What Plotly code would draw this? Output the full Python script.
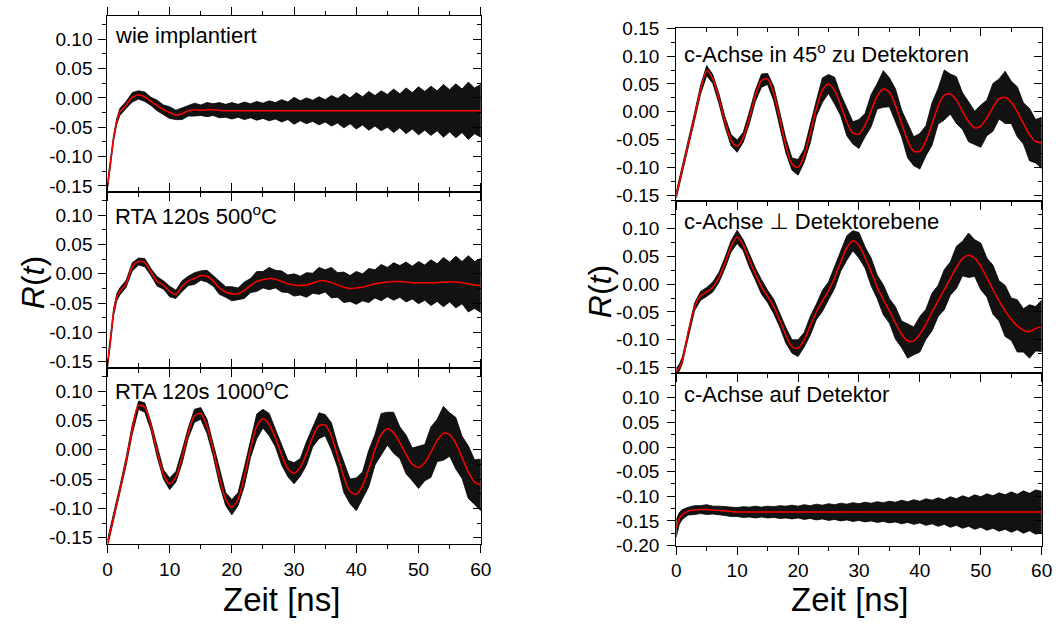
import plotly.graph_objects as go

# ---------------- data ----------------
T = [0, 0.5, 1, 1.5, 2] + list(range(3, 61))   # 63 time points, ns

# fitted curves (red)
FIT_A = [-0.150, -0.110, -0.068, -0.040, -0.024, -0.012, 0.001, 0.005, 0.002, -0.006,
         -0.013, -0.020, -0.025, -0.029, -0.027, -0.022, -0.020, -0.021, -0.020, -0.020,
         -0.021, -0.022, -0.022, -0.022, -0.022, -0.022, -0.022, -0.022, -0.022, -0.022,
         -0.022, -0.022, -0.022, -0.022, -0.022, -0.022, -0.022, -0.022, -0.022, -0.022,
         -0.022, -0.022, -0.022, -0.022, -0.022, -0.022, -0.022, -0.022, -0.022, -0.022,
         -0.022, -0.022, -0.022, -0.022, -0.022, -0.022, -0.022, -0.022, -0.022, -0.022,
         -0.022, -0.022, -0.022]
FIT_B = [-0.155, -0.112, -0.065, -0.040, -0.030, -0.017, 0.012, 0.021, 0.019, 0.003,
         -0.013, -0.019, -0.030, -0.035, -0.021, -0.012, -0.008, -0.003, -0.004, -0.012,
         -0.024, -0.031, -0.034, -0.034, -0.028, -0.020, -0.013, -0.010, -0.008, -0.009,
         -0.013, -0.017, -0.019, -0.020, -0.019, -0.016, -0.012, -0.012, -0.015, -0.019,
         -0.023, -0.025, -0.024, -0.023, -0.020, -0.017, -0.015, -0.014, -0.013, -0.013,
         -0.014, -0.015, -0.015, -0.015, -0.015, -0.015, -0.014, -0.014, -0.014, -0.015,
         -0.017, -0.019, -0.020]
FIT_C = [-0.160, -0.138, -0.115, -0.092, -0.068, -0.020, 0.035, 0.076, 0.072, 0.040,
         -0.004, -0.042, -0.058, -0.046, -0.012, 0.029, 0.058, 0.062, 0.040, -0.001,
         -0.047, -0.084, -0.098, -0.084, -0.046, 0.001, 0.040, 0.053, 0.043, 0.020,
         -0.009, -0.032, -0.040, -0.030, -0.006, 0.022, 0.041, 0.042, 0.023, -0.011,
         -0.047, -0.071, -0.076, -0.061, -0.032, 0.000, 0.026, 0.036, 0.029, 0.012,
         -0.008, -0.025, -0.030, -0.022, -0.004, 0.016, 0.028, 0.026, 0.011, -0.013,
         -0.038, -0.055, -0.060]
FIT_D = [-0.150, -0.127, -0.103, -0.080, -0.056, -0.009, 0.040, 0.074, 0.059, 0.024,
         -0.018, -0.051, -0.062, -0.046, -0.011, 0.029, 0.056, 0.059, 0.033, -0.013,
         -0.061, -0.094, -0.100, -0.079, -0.039, 0.006, 0.039, 0.050, 0.038, 0.012,
         -0.018, -0.038, -0.040, -0.024, 0.002, 0.028, 0.041, 0.035, 0.011, -0.021,
         -0.052, -0.071, -0.071, -0.052, -0.022, 0.010, 0.030, 0.032, 0.021, 0.001,
         -0.018, -0.029, -0.026, -0.011, 0.008, 0.023, 0.026, 0.017, 0.000, -0.021,
         -0.041, -0.053, -0.056]
FIT_E = [-0.157, -0.150, -0.137, -0.112, -0.085, -0.041, -0.021, -0.014, -0.005, 0.012,
         0.038, 0.068, 0.085, 0.070, 0.043, 0.018, -0.005, -0.022, -0.040, -0.065,
         -0.092, -0.112, -0.115, -0.100, -0.075, -0.050, -0.030, -0.012, 0.012, 0.040,
         0.065, 0.078, 0.070, 0.048, 0.022, -0.005, -0.028, -0.048, -0.070, -0.090,
         -0.102, -0.102, -0.090, -0.072, -0.050, -0.030, -0.010, 0.010, 0.030, 0.046,
         0.052, 0.047, 0.032, 0.012, -0.010, -0.030, -0.048, -0.063, -0.075, -0.083,
         -0.085, -0.080, -0.075]
FIT_F = [-0.165, -0.145, -0.137, -0.133, -0.130, -0.128, -0.127, -0.127, -0.128, -0.129,
         -0.130, -0.131, -0.132, -0.132, -0.132, -0.132, -0.132, -0.132, -0.132, -0.132,
         -0.132, -0.132, -0.132, -0.132, -0.132, -0.132, -0.132, -0.132, -0.132, -0.132,
         -0.132, -0.132, -0.132, -0.132, -0.132, -0.132, -0.132, -0.132, -0.132, -0.132,
         -0.132, -0.132, -0.132, -0.132, -0.132, -0.132, -0.132, -0.132, -0.132, -0.132,
         -0.132, -0.132, -0.132, -0.132, -0.132, -0.132, -0.132, -0.132, -0.132, -0.132,
         -0.132, -0.132, -0.132]

# half-width of the noisy measured data (black) around the fit
NOISE_A = [0.006, 0.005, 0.005, 0.005, 0.006, 0.006, 0.008, 0.007, 0.008, 0.007,
           0.009, 0.008, 0.010, 0.008, 0.010, 0.009, 0.011, 0.009, 0.012, 0.010,
           0.013, 0.011, 0.014, 0.011, 0.015, 0.012, 0.016, 0.013, 0.017, 0.014,
           0.019, 0.015, 0.023, 0.017, 0.022, 0.018, 0.024, 0.019, 0.026, 0.021,
           0.029, 0.022, 0.031, 0.024, 0.033, 0.026, 0.034, 0.028, 0.037, 0.029,
           0.039, 0.031, 0.041, 0.033, 0.042, 0.034, 0.045, 0.036, 0.046, 0.037,
           0.049, 0.039, 0.045]
NOISE_B = [0.006, 0.006, 0.006, 0.006, 0.006, 0.006, 0.007, 0.006, 0.007, 0.006,
           0.008, 0.007, 0.009, 0.007, 0.009, 0.008, 0.010, 0.008, 0.010, 0.009,
           0.011, 0.009, 0.012, 0.010, 0.014, 0.012, 0.017, 0.014, 0.019, 0.015,
           0.018, 0.015, 0.019, 0.016, 0.021, 0.017, 0.023, 0.019, 0.026, 0.021,
           0.026, 0.022, 0.028, 0.023, 0.029, 0.024, 0.031, 0.025, 0.032, 0.027,
           0.034, 0.028, 0.036, 0.030, 0.039, 0.032, 0.042, 0.034, 0.044, 0.036,
           0.048, 0.040, 0.046]
NOISE_C = [0.006, 0.006, 0.006, 0.006, 0.006, 0.007, 0.008, 0.007, 0.008, 0.007,
           0.009, 0.008, 0.010, 0.009, 0.011, 0.009, 0.011, 0.010, 0.012, 0.010,
           0.012, 0.011, 0.013, 0.011, 0.016, 0.014, 0.021, 0.016, 0.019, 0.015,
           0.017, 0.014, 0.018, 0.015, 0.020, 0.017, 0.022, 0.018, 0.023, 0.019,
           0.026, 0.021, 0.028, 0.023, 0.031, 0.026, 0.036, 0.028, 0.035, 0.027,
           0.033, 0.028, 0.036, 0.031, 0.043, 0.036, 0.046, 0.037, 0.044, 0.036,
           0.045, 0.038, 0.044]
NOISE_D = [0.006, 0.006, 0.006, 0.006, 0.007, 0.007, 0.008, 0.009, 0.008, 0.009,
           0.009, 0.010, 0.011, 0.009, 0.011, 0.010, 0.012, 0.010, 0.013, 0.011,
           0.013, 0.011, 0.014, 0.012, 0.017, 0.014, 0.022, 0.017, 0.024, 0.019,
           0.025, 0.020, 0.026, 0.021, 0.029, 0.023, 0.033, 0.026, 0.030, 0.024,
           0.031, 0.026, 0.032, 0.027, 0.038, 0.032, 0.045, 0.036, 0.042, 0.033,
           0.036, 0.030, 0.038, 0.032, 0.043, 0.036, 0.047, 0.038, 0.045, 0.037,
           0.047, 0.039, 0.046]
NOISE_E = [0.006, 0.006, 0.006, 0.006, 0.007, 0.007, 0.008, 0.008, 0.009, 0.009,
           0.010, 0.010, 0.012, 0.010, 0.012, 0.011, 0.013, 0.011, 0.013, 0.012,
           0.014, 0.012, 0.015, 0.013, 0.017, 0.014, 0.019, 0.016, 0.020, 0.017,
           0.022, 0.018, 0.023, 0.019, 0.025, 0.021, 0.027, 0.022, 0.029, 0.024,
           0.031, 0.025, 0.032, 0.027, 0.034, 0.028, 0.036, 0.030, 0.038, 0.031,
           0.040, 0.033, 0.042, 0.035, 0.044, 0.036, 0.046, 0.038, 0.047, 0.039,
           0.048, 0.040, 0.046]
NOISE_F = [0.018, 0.012, 0.010, 0.009, 0.008, 0.009, 0.008, 0.010, 0.008, 0.009,
           0.009, 0.010, 0.009, 0.011, 0.010, 0.012, 0.010, 0.012, 0.011, 0.013,
           0.012, 0.014, 0.012, 0.015, 0.013, 0.016, 0.014, 0.017, 0.015, 0.018,
           0.016, 0.019, 0.017, 0.020, 0.018, 0.021, 0.019, 0.022, 0.020, 0.024,
           0.021, 0.025, 0.022, 0.027, 0.024, 0.029, 0.025, 0.031, 0.027, 0.033,
           0.029, 0.035, 0.031, 0.037, 0.033, 0.039, 0.035, 0.041, 0.036, 0.043,
           0.038, 0.045, 0.042]

LABELS = ["wie implantiert", "RTA 120s 500<sup>o</sup>C", "RTA 120s 1000<sup>o</sup>C",
          "c-Achse in 45<sup>o</sup> zu Detektoren", "c-Achse \u22a5 Detektorebene",
          "c-Achse auf Detektor"]
FITS = [FIT_A, FIT_B, FIT_C, FIT_D, FIT_E, FIT_F]
NOISES = [NOISE_A, NOISE_B, NOISE_C, NOISE_D, NOISE_E, NOISE_F]
for arr in FITS + NOISES:
    assert len(arr) == len(T)

X_TICKS = [0, 10, 20, 30, 40, 50, 60]
Y_TICKS = [
    [0.10, 0.05, 0.00, -0.05, -0.10, -0.15],
    [0.10, 0.05, 0.00, -0.05, -0.10, -0.15],
    [0.10, 0.05, 0.00, -0.05, -0.10, -0.15],
    [0.15, 0.10, 0.05, 0.00, -0.05, -0.10, -0.15],
    [0.10, 0.05, 0.00, -0.05, -0.10, -0.15],
    [0.10, 0.05, 0.00, -0.05, -0.10, -0.15, -0.20],
]
Y_RANGES = [[-0.16, 0.14], [-0.16, 0.14], [-0.16, 0.14],
            [-0.16, 0.15], [-0.16, 0.15], [-0.20, 0.15]]

# ---------------- layout geometry (pixels) ----------------
W, H = 1064, 630
COL_X = [(104, 483), (681.5, 1052.5)]
ROW_Y = [[(6, 188), (188, 370), (370, 552)],
         [(19, 197.3), (197.3, 375.7), (375.7, 554)]]
TOP_TICK_DIR = ["outside", "inside"]   # per column

FONT = "Liberation Sans, Arial, DejaVu Sans, sans-serif"

fig = go.Figure()
layout = dict(width=W, height=H, margin=dict(l=0, r=0, t=0, b=0),
              paper_bgcolor="white", plot_bgcolor="white", showlegend=False,
              font=dict(family=FONT, color="black"))
annotations = []

def name(prefix, k):
    return prefix if k == 1 else f"{prefix}{k}"

for i in range(6):
    col, row = divmod(i, 3)
    n = i + 1
    m = i + 7  # overlay axes for top / right ticks
    fit, noise = FITS[i], NOISES[i]
    upper = [f + e for f, e in zip(fit, noise)]
    lower = [f - e for f, e in zip(fit, noise)]
    fig.add_trace(go.Scatter(x=T + T[::-1], y=upper + lower[::-1], mode="lines",
                             fill="toself", fillcolor="rgba(0,0,0,0.93)",
                             line=dict(color="black", width=0.8),
                             xaxis=name("x", n), yaxis=name("y", n), hoverinfo="skip"))
    fig.add_trace(go.Scatter(x=T, y=fit, mode="lines",
                             line=dict(color="red", width=1.5, shape="spline", smoothing=0.8),
                             xaxis=name("x", n), yaxis=name("y", n)))
    fig.add_trace(go.Scatter(x=[None], y=[None], mode="lines",
                             xaxis=name("x", m), yaxis=name("y", m), hoverinfo="skip"))
    x0, x1 = COL_X[col]
    y0, y1 = ROW_Y[col][row]
    tk = dict(tickcolor="black", tickwidth=1.3, ticklen=8, showgrid=False, zeroline=False)
    xminor = dict(dtick=5, tick0=0, ticklen=4, tickcolor="black", showgrid=False)
    yminor = dict(dtick=0.025, tick0=0, ticklen=4, tickcolor="black", showgrid=False)
    layout[name("xaxis", n)] = dict(
        domain=[x0 / W, x1 / W], range=[0, 60], anchor=name("y", n),
        showline=True, linecolor="black", linewidth=1.3, mirror=True, ticks="outside",
        tickmode="array", tickvals=X_TICKS, ticktext=[str(v) for v in X_TICKS],
        showticklabels=(row == 2), tickfont=dict(size=19, family=FONT),
        minor=dict(ticks="outside", **xminor), **tk)
    layout[name("yaxis", n)] = dict(
        domain=[1 - y1 / H, 1 - y0 / H], range=Y_RANGES[i], anchor=name("x", n),
        showline=True, linecolor="black", linewidth=1.3, mirror=True, ticks="outside",
        tickmode="array", tickvals=Y_TICKS[i],
        ticktext=[f"{v:.2f}" for v in Y_TICKS[i]],
        tickfont=dict(size=19, family=FONT), ticklabelstandoff=(2 if col == 0 else 4),
        minor=dict(ticks="outside", **yminor), **tk)
    # overlay axes: ticks on top and right borders
    layout[name("xaxis", m)] = dict(
        overlaying=name("x", n), side="top", anchor=name("y", m), range=[0, 60],
        showline=False, ticks=TOP_TICK_DIR[col], tickmode="array", tickvals=X_TICKS,
        showticklabels=False, minor=dict(ticks=TOP_TICK_DIR[col], **xminor), **tk)
    layout[name("yaxis", m)] = dict(
        overlaying=name("y", n), side="right", anchor=name("x", m), range=Y_RANGES[i],
        showline=False, ticks="inside", tickmode="array", tickvals=Y_TICKS[i],
        showticklabels=False, minor=dict(ticks="inside", **yminor), **tk)

LABEL_POS = [(110, 26), (110, 212), (110, 393), (687, 44), (687.5, 219), (687.5, 398)]
for (px, py), txt in zip(LABEL_POS, LABELS):
    annotations.append(dict(text=txt, x=px / W, y=1 - py / H, xref="paper", yref="paper",
                            xanchor="left", yanchor="middle", showarrow=False,
                            font=dict(size=22, family=FONT, color="black")))

for cx, cy in [(281, 610), (857, 610)]:
    annotations.append(dict(text="Zeit [ns]", x=cx / W, y=1 - cy / H, xref="paper",
                            yref="paper", xanchor="center", yanchor="middle",
                            showarrow=False, font=dict(size=33, family=FONT)))
for cx, cy in [(28, 282), (604, 291)]:
    annotations.append(dict(text="<i>R</i>(<i>t</i>)", x=cx / W, y=1 - cy / H,
                            xref="paper", yref="paper", xanchor="center",
                            yanchor="middle", textangle=-90, showarrow=False,
                            font=dict(size=32, family=FONT)))

layout["annotations"] = annotations
fig.update_layout(**layout)
fig.write_html("out.html",
               post_script="document.body.style.margin='0';"
                           "document.documentElement.style.overflow='hidden';")
